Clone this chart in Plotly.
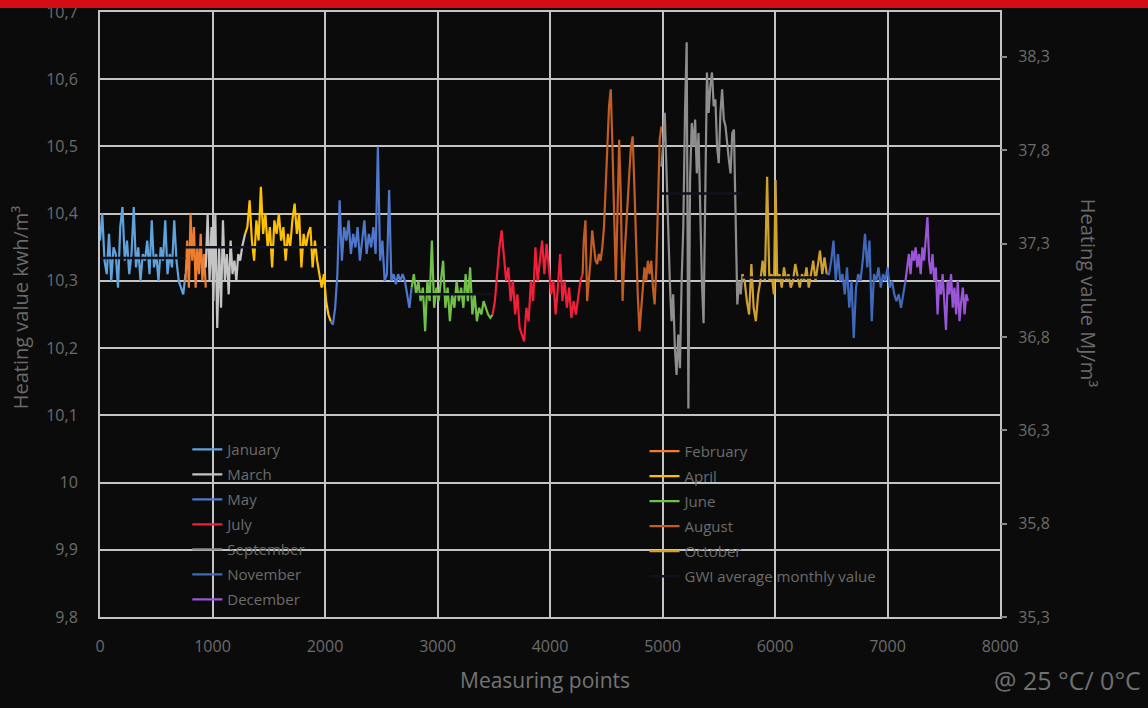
import plotly.graph_objects as go

# ---- measured heating values (kWh/m³) per month, by measuring point ----
jan_x = [0, 20, 40, 60, 80, 100, 120, 140, 160, 180, 200, 220, 240, 260, 280, 300, 320, 340, 360, 380,
         400, 420, 440, 460, 480, 500, 520, 540, 560, 580, 600, 620, 640, 660, 680, 700, 720, 740, 760]
jan_y = [10.36, 10.40, 10.33, 10.31, 10.37, 10.30, 10.35, 10.34, 10.29, 10.38, 10.41, 10.33, 10.36, 10.31,
         10.34, 10.41, 10.32, 10.35, 10.30, 10.34, 10.33, 10.36, 10.31, 10.39, 10.32, 10.34, 10.30, 10.35,
         10.33, 10.39, 10.31, 10.34, 10.32, 10.39, 10.33, 10.30, 10.29, 10.28, 10.31]

feb_x = [760, 775, 790, 805, 820, 835, 850, 865, 880, 895, 910, 925, 940]
feb_y = [10.30, 10.36, 10.29, 10.40, 10.33, 10.38, 10.29, 10.35, 10.31, 10.37, 10.30, 10.34, 10.29]

mar_x = [940, 957, 974, 991, 1008, 1025, 1042, 1059, 1076, 1093, 1110, 1127, 1144, 1161, 1178,
         1195, 1212, 1229, 1246, 1263, 1290]
mar_y = [10.32, 10.40, 10.30, 10.38, 10.27, 10.40, 10.23, 10.35, 10.26, 10.39, 10.30, 10.34, 10.28,
         10.36, 10.31, 10.33, 10.30, 10.34, 10.33, 10.35, 10.37]

apr_x = [1290, 1310, 1330, 1350, 1370, 1390, 1410, 1430, 1450, 1470, 1490, 1510, 1530, 1550, 1570,
         1590, 1610, 1630, 1650, 1670, 1690, 1710, 1730, 1750, 1770, 1790, 1810, 1830, 1850, 1870,
         1890, 1910, 1930, 1950, 1970, 1990, 2010, 2030, 2050]
apr_y = [10.37, 10.38, 10.42, 10.36, 10.33, 10.39, 10.36, 10.44, 10.37, 10.40, 10.35, 10.38, 10.32,
         10.39, 10.37, 10.40, 10.36, 10.38, 10.33, 10.37, 10.35, 10.39, 10.415, 10.37, 10.40, 10.32,
         10.37, 10.35, 10.37, 10.38, 10.32, 10.36, 10.33, 10.31, 10.29, 10.31, 10.27, 10.25, 10.24]

may_x = [2050, 2070, 2090, 2110, 2130, 2150, 2170, 2190, 2210, 2230, 2250, 2270, 2290, 2310, 2330,
         2350, 2370, 2390, 2410, 2430, 2450, 2470, 2490, 2510, 2530, 2550, 2570, 2590, 2610, 2630,
         2650, 2670, 2690, 2710, 2730, 2750, 2770]
may_y = [10.24, 10.235, 10.26, 10.31, 10.42, 10.33, 10.38, 10.36, 10.39, 10.34, 10.37, 10.35, 10.38,
         10.33, 10.36, 10.39, 10.34, 10.37, 10.35, 10.38, 10.34, 10.50, 10.33, 10.36, 10.30, 10.31,
         10.435, 10.30, 10.31, 10.295, 10.31, 10.30, 10.31, 10.30, 10.28, 10.26, 10.29]

jun_x = [2770, 2790, 2810, 2830, 2850, 2870, 2890, 2910, 2930, 2950, 2970, 2990, 3010, 3030, 3050,
         3070, 3090, 3110, 3130, 3150, 3170, 3190, 3210, 3230, 3250, 3270, 3290, 3310, 3330, 3350,
         3370, 3390, 3410, 3430, 3450, 3470, 3490]
jun_y = [10.29, 10.31, 10.28, 10.30, 10.27, 10.29, 10.225, 10.30, 10.27, 10.36, 10.26, 10.29, 10.27,
         10.30, 10.33, 10.26, 10.29, 10.24, 10.28, 10.26, 10.30, 10.27, 10.29, 10.26, 10.31, 10.27,
         10.32, 10.25, 10.28, 10.24, 10.26, 10.25, 10.27, 10.26, 10.25, 10.245, 10.25]

jul_x = [3490, 3510, 3530, 3550, 3570, 3590, 3610, 3630, 3650, 3670, 3690, 3710, 3730, 3750, 3770,
         3790, 3810, 3830, 3850, 3870, 3890, 3910, 3930, 3950, 3970, 3990, 4010, 4030, 4050, 4070,
         4090, 4110, 4130, 4150, 4170, 4190, 4210, 4230, 4250, 4270, 4290]
jul_y = [10.25, 10.27, 10.31, 10.35, 10.375, 10.33, 10.30, 10.32, 10.27, 10.30, 10.25, 10.28, 10.23,
         10.22, 10.21, 10.26, 10.24, 10.30, 10.27, 10.35, 10.30, 10.33, 10.36, 10.31, 10.355, 10.32,
         10.28, 10.30, 10.25, 10.29, 10.34, 10.27, 10.30, 10.26, 10.29, 10.245, 10.27, 10.25, 10.28,
         10.30, 10.31]

aug_x = [4290, 4300, 4315, 4330, 4345, 4360, 4375, 4390, 4405, 4420, 4435, 4450, 4465, 4480, 4495,
         4510, 4525, 4540, 4555, 4570, 4585, 4600, 4615, 4630, 4645, 4660, 4675, 4690, 4705, 4720,
         4735, 4750, 4765, 4780, 4795, 4810, 4825, 4840, 4855, 4870, 4885, 4900, 4915, 4930, 4945,
         4960, 4975, 4990]
aug_y = [10.31, 10.36, 10.39, 10.27, 10.30, 10.33, 10.375, 10.35, 10.33, 10.325, 10.34, 10.33, 10.35,
         10.38, 10.43, 10.50, 10.56, 10.585, 10.50, 10.38, 10.30, 10.40, 10.51, 10.42, 10.27, 10.33,
         10.38, 10.425, 10.46, 10.50, 10.515, 10.44, 10.35, 10.28, 10.225, 10.26, 10.30, 10.32, 10.30,
         10.33, 10.31, 10.33, 10.29, 10.265, 10.32, 10.42, 10.51, 10.53]

sep_x = [4990, 5005, 5020, 5035, 5050, 5065, 5080, 5095, 5110, 5125, 5140, 5155, 5170, 5185, 5200,
         5215, 5230, 5245, 5260, 5275, 5290, 5305, 5320, 5335, 5350, 5365, 5380, 5395, 5410, 5425,
         5440, 5455, 5470, 5485, 5500, 5515, 5530, 5545, 5560, 5575, 5590, 5605, 5620, 5635, 5650,
         5665, 5680, 5695, 5710]
sep_y = [10.47, 10.50, 10.55, 10.47, 10.36, 10.30, 10.24, 10.28, 10.20, 10.16, 10.22, 10.17, 10.30,
         10.38, 10.55, 10.655, 10.11, 10.45, 10.535, 10.50, 10.54, 10.46, 10.52, 10.40, 10.30, 10.237,
         10.45, 10.61, 10.55, 10.59, 10.61, 10.56, 10.57, 10.50, 10.475, 10.55, 10.585, 10.54, 10.53,
         10.50, 10.48, 10.46, 10.52, 10.525, 10.40, 10.265, 10.30, 10.28, 10.31]

oct_x = [5710, 5730, 5750, 5770, 5790, 5810, 5830, 5850, 5870, 5890, 5910, 5930, 5950, 5970, 5990,
         6005, 6020, 6040, 6060, 6080, 6100, 6120, 6140, 6160, 6180, 6200, 6220, 6240, 6260, 6280,
         6300, 6320, 6340, 6360, 6380, 6400, 6420, 6440, 6460]
oct_y = [10.31, 10.30, 10.27, 10.25, 10.325, 10.26, 10.24, 10.28, 10.30, 10.33, 10.30, 10.455, 10.30,
         10.31, 10.28, 10.45, 10.30, 10.31, 10.29, 10.32, 10.30, 10.31, 10.29, 10.30, 10.325, 10.31,
         10.29, 10.31, 10.30, 10.32, 10.29, 10.31, 10.33, 10.30, 10.32, 10.345, 10.31, 10.335, 10.31]

nov_x = [6460, 6480, 6500, 6520, 6540, 6560, 6580, 6600, 6620, 6640, 6660, 6680, 6700, 6720, 6740,
         6760, 6780, 6800, 6820, 6840, 6860, 6880, 6900, 6920, 6940, 6960, 6980, 7000, 7020, 7040,
         7060, 7080, 7100, 7120, 7140, 7160]
nov_y = [10.31, 10.31, 10.33, 10.36, 10.30, 10.34, 10.30, 10.31, 10.28, 10.32, 10.26, 10.30, 10.215,
         10.29, 10.31, 10.30, 10.33, 10.37, 10.32, 10.36, 10.24, 10.31, 10.30, 10.32, 10.29, 10.31,
         10.30, 10.32, 10.29, 10.30, 10.28, 10.27, 10.28, 10.26, 10.28, 10.30]

dec_x = [7160, 7175, 7190, 7205, 7220, 7235, 7250, 7265, 7280, 7295, 7310, 7325, 7340, 7355, 7370,
         7385, 7400, 7415, 7430, 7445, 7460, 7475, 7490, 7505, 7520, 7535, 7550, 7565, 7580, 7595,
         7610, 7625, 7640, 7655, 7670, 7685, 7700, 7715]
dec_y = [10.30, 10.32, 10.34, 10.31, 10.345, 10.33, 10.35, 10.32, 10.34, 10.31, 10.35, 10.33, 10.37,
         10.395, 10.33, 10.31, 10.34, 10.30, 10.32, 10.25, 10.30, 10.28, 10.31, 10.27, 10.227, 10.30,
         10.28, 10.31, 10.26, 10.29, 10.25, 10.30, 10.24, 10.27, 10.29, 10.25, 10.28, 10.27]

# GWI average monthly value (kWh/m³); None where no value is drawn
gwi_avg = [10.334, 10.35, 10.35, 10.35, None, 10.28, None, None, 10.43, 10.305, None, None]

months = ["January", "February", "March", "April", "May", "June", "July", "August",
          "September", "October", "November", "December"]
month_x = [jan_x, feb_x, mar_x, apr_x, may_x, jun_x, jul_x, aug_x, sep_x, oct_x, nov_x, dec_x]
month_y = [jan_y, feb_y, mar_y, apr_y, may_y, jun_y, jul_y, aug_y, sep_y, oct_y, nov_y, dec_y]
colors = ["#5fa2dc", "#ed7d31", "#c4c4c4", "#ffc000", "#4f78cc", "#72c04a",
          "#f0203a", "#c25e24", "#8e8e8e", "#cfa230", "#4068bb", "#9a55d8"]
# left legend column holds Jan, Mar, May, Jul, Sep, Nov, Dec; right one the rest
legend_of = ["legend", "legend2", "legend", "legend2", "legend", "legend2",
             "legend", "legend2", "legend", "legend2", "legend", "legend"]

# axis ticks
x_ticks = [0, 1000, 2000, 3000, 4000, 5000, 6000, 7000, 8000]
x_ticklabels = ["0", "1000", "2000", "3000", "4000", "5000", "6000", "7000", "8000"]
kwh_ticks = [9.8, 9.9, 10.0, 10.1, 10.2, 10.3, 10.4, 10.5, 10.6, 10.7]
kwh_ticklabels = ["9,8", "9,9", "10", "10,1", "10,2", "10,3", "10,4", "10,5", "10,6", "10,7"]
mj_ticks = [35.3, 35.8, 36.3, 36.8, 37.3, 37.8, 38.3]
mj_ticklabels = ["35,3", "35,8", "36,3", "36,8", "37,3", "37,8", "38,3"]

BG = "#0b0b0b"
GRID = "#c4c4c4"
TXT = "#6c6c6c"
FONT = "Open Sans"

fig = go.Figure()

for name, xs, ys, col, lg in zip(months, month_x, month_y, colors, legend_of):
    fig.add_trace(go.Scatter(x=xs, y=ys, mode="lines", name=name, legend=lg, legendgroup=name,
                             line=dict(color=col, width=2.2)))

# monthly GWI averages as short black bars spanning each month
gx, gy = [], []
for xs, avg in zip(month_x, gwi_avg):
    if avg is None:
        continue
    gx += [min(xs), max(xs), None]
    gy += [avg, avg, None]
fig.add_trace(go.Scatter(x=gx, y=gy, mode="lines", name="GWI average monthly value",
                         legend="legend2", legendgroup="gwi",
                         line=dict(color="#10121e", width=2.5)))

# secondary MJ/m³ scale
fig.add_trace(go.Scatter(x=[x_ticks[0]], y=[mj_ticks[0]], yaxis="y2", mode="markers",
                         marker=dict(opacity=0), showlegend=False, hoverinfo="skip"))

legend_common = dict(bgcolor="rgba(0,0,0,0)", borderwidth=0,
                     font=dict(family=FONT, size=15, color=TXT),
                     xanchor="left", yanchor="top", tracegroupgap=2.5)

fig.update_layout(
    width=1148, height=708,
    margin=dict(l=100, r=148, t=12, b=91),
    paper_bgcolor=BG, plot_bgcolor=BG,
    font=dict(family=FONT, color=TXT),
    xaxis=dict(range=[0, 8000], tickvals=x_ticks, ticktext=x_ticklabels, automargin=False,
               showgrid=True, gridcolor=GRID, gridwidth=2, zeroline=False,
               showline=True, linecolor=GRID, linewidth=2, mirror=True,
               ticks="", tickfont=dict(size=16, color=TXT), ticklabelstandoff=14),
    yaxis=dict(range=[9.8, 10.7], tickvals=kwh_ticks, ticktext=kwh_ticklabels, automargin=False,
               showgrid=True, gridcolor=GRID, gridwidth=2, zeroline=False,
               showline=True, linecolor=GRID, linewidth=2, mirror=True,
               ticks="", tickfont=dict(size=16, color=TXT), ticklabelstandoff=17),
    yaxis2=dict(range=[35.3, 38.54], tickvals=mj_ticks, ticktext=mj_ticklabels, automargin=False,
                overlaying="y", side="right", showgrid=False, zeroline=False,
                showline=False, ticks="outside", ticklen=6, tickwidth=2, tickcolor="#8a8a8a",
                tickfont=dict(size=16, color=TXT), ticklabelstandoff=8),
    legend=dict(x=0.097, y=0.304, **legend_common),
    legend2=dict(x=0.605, y=0.301, **legend_common),
    showlegend=True,
    shapes=[dict(type="rect", xref="paper", yref="paper",
                 x0=-100 / 900, x1=1 + 148 / 900, y0=1 + 4 / 605, y1=1 + 12 / 605,
                 fillcolor="#d20d16", line=dict(width=0), layer="above")],
    annotations=[
        dict(text="Measuring points", xref="paper", yref="paper", x=0.494, y=-0.104,
             showarrow=False, font=dict(size=21, color="#747474"),
             xanchor="center", yanchor="middle"),
        dict(text="Heating value kwh/m³", xref="paper", yref="paper", x=-80 / 900, y=0.512,
             showarrow=False, textangle=-90, font=dict(size=20, color="#6a6a6a"),
             xanchor="center", yanchor="middle"),
        dict(text="Heating value MJ/m³", xref="paper", yref="paper", x=1 + 88 / 900, y=0.536,
             showarrow=False, textangle=90, font=dict(size=20, color="#6a6a6a"),
             xanchor="center", yanchor="middle"),
        dict(text="@ 25 °C/ 0°C", xref="paper", yref="paper", x=1 + 143 / 900, y=-0.104,
             showarrow=False, font=dict(size=25, color="#707070"),
             xanchor="right", yanchor="middle"),
    ],
)

fig.write_html("out.html")
